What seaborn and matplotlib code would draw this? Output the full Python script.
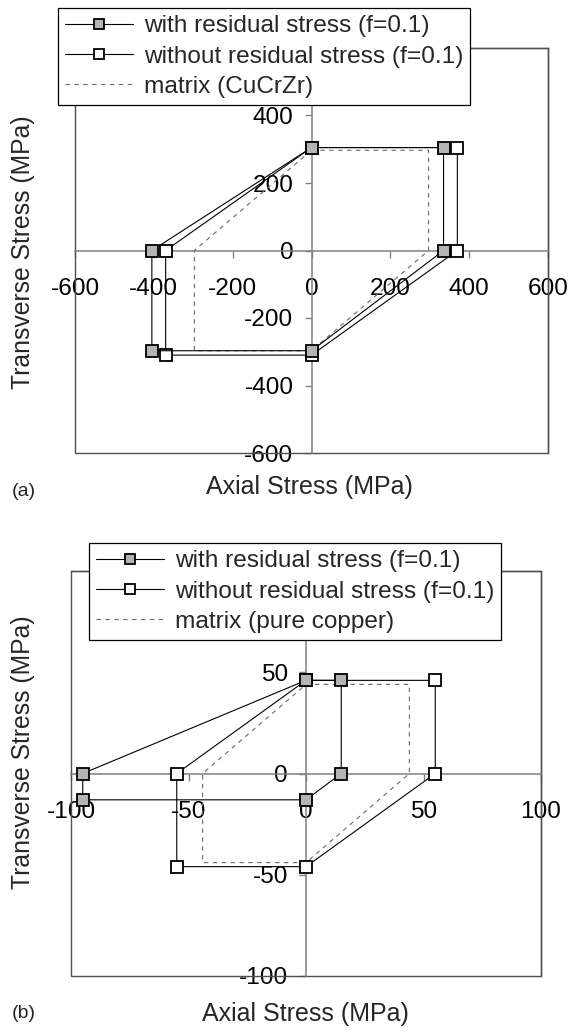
import matplotlib
matplotlib.use("Agg")
import matplotlib.pyplot as plt
import seaborn as sns
from matplotlib.lines import Line2D
from matplotlib.patches import Rectangle

# ---------------- data ----------------
# (a) CuCrZr
a_with_x = [0, 335, 335, 0, -405, -405, 0]
a_with_y = [305, 305, 0, -297, -297, 0, 305]
a_without_x = [0, 370, 370, 0, -370, -370, 0]
a_without_y = [305, 305, 0, -310, -310, 0, 305]
a_matrix_x = [0, 297, 297, 0, -297, -297, 0]
a_matrix_y = [297, 297, 0, -297, -297, 0, 297]
a_ticks = [-600, -400, -200, 0, 200, 400, 600]

# (b) pure copper
b_with_x = [0, 15, 15, 0, -95, -95, 0]
b_with_y = [46, 46, 0, -13, -13, 0, 46]
b_without_x = [0, 55, 55, 0, -55, -55, 0]
b_without_y = [46, 46, 0, -46, -46, 0, 46]
b_matrix_x = [0, 44, 44, 0, -44, -44, 0]
b_matrix_y = [44, 44, 0, -44, -44, 0, 44]
b_ticks = [-100, -50, 0, 50, 100]

labels_a = ["with residual stress (f=0.1)", "without residual stress (f=0.1)", "matrix (CuCrZr)"]
labels_b = ["with residual stress (f=0.1)", "without residual stress (f=0.1)", "matrix (pure copper)"]

# ---------------- style ----------------
sns.set_theme(style="white")
plt.rcParams["font.family"] = ["Liberation Sans", "DejaVu Sans"]
plt.rcParams["axes.unicode_minus"] = False

GRAY = "#b4b4b4"
AXIS_C = "#808080"
FRAME_C = "#505050"
DASH_C = "#6a6a6a"
FS = 17.6
MS = 8.3

W, H = 570, 1036
fig = plt.figure(figsize=(W / 100, H / 100), dpi=100)


def px_axes(l, r, t, b):
    return fig.add_axes([l / W, 1 - b / H, (r - l) / W, (b - t) / H])


def draw(ax, mx, my, wox, woy, wx, wy):
    sns.lineplot(x=mx, y=my, sort=False, estimator=None, ax=ax, color=DASH_C,
                 lw=0.8, linestyle=(0, (4, 4)), legend=False, zorder=3)
    sns.lineplot(x=wox, y=woy, sort=False, estimator=None, ax=ax, color="black",
                 lw=0.8, marker="s", markersize=MS, markerfacecolor="white",
                 markeredgecolor="black", markeredgewidth=1.3, legend=False, zorder=4)
    sns.lineplot(x=wx, y=wy, sort=False, estimator=None, ax=ax, color="black",
                 lw=0.8, marker="s", markersize=MS, markerfacecolor=GRAY,
                 markeredgecolor="black", markeredgewidth=1.3, legend=False, zorder=4.5)


def setup(ax, ticks):
    lim = ticks[-1]
    ax.set_xlim(-lim, lim)
    ax.set_ylim(-lim, lim)
    ax.set_xticks(ticks)
    ax.set_yticks(ticks)
    ax.set_xticklabels([str(t) for t in ticks])
    # the top y label sits behind the legend in the reference
    ax.set_yticklabels([str(t) for t in ticks[:-1]] + [""])
    ax.spines["left"].set_position("zero")
    ax.spines["bottom"].set_position("zero")
    for s in ["left", "bottom"]:
        ax.spines[s].set_color(AXIS_C)
        ax.spines[s].set_linewidth(1.1)
    for s in ["top", "right"]:
        ax.spines[s].set_color(FRAME_C)
        ax.spines[s].set_linewidth(1.0)
    ax.add_patch(Rectangle((0, 0), 1, 1, transform=ax.transAxes, fill=False,
                           edgecolor=FRAME_C, lw=1.0, zorder=1, clip_on=False))
    ax.tick_params(axis="both", direction="out", length=5, width=1.0, color=AXIS_C,
                   labelsize=FS, labelcolor="black", bottom=True, left=True)
    ax.tick_params(axis="x", pad=15)
    ax.tick_params(axis="y", pad=8)
    ax.set_xlabel("")
    ax.set_ylabel("")
    ax.set_facecolor("white")


def legend(ax, labels, x, y):
    h1 = Line2D([], [], color="black", lw=0.8, marker="s", markersize=MS - 0.5,
                markerfacecolor=GRAY, markeredgecolor="black", markeredgewidth=1.3)
    h2 = Line2D([], [], color="black", lw=0.8, marker="s", markersize=MS - 0.5,
                markerfacecolor="white", markeredgecolor="black", markeredgewidth=1.3)
    h3 = Line2D([], [], color=DASH_C, lw=0.8, linestyle=(0, (4, 4)))
    leg = ax.legend([h1, h2, h3], labels, loc="upper left",
                    bbox_to_anchor=(x / W, 1 - y / H), bbox_transform=fig.transFigure,
                    frameon=True, fancybox=False, edgecolor="black", framealpha=1,
                    facecolor="white", fontsize=FS, handlelength=2.75,
                    handletextpad=0.45, borderpad=0.3, labelspacing=0.33,
                    borderaxespad=0, numpoints=1)
    leg.get_frame().set_linewidth(0.9)
    leg.set_zorder(10)


# ---------------- (a) ----------------
ax1 = px_axes(75, 548, 48, 453)
draw(ax1, a_matrix_x, a_matrix_y, a_without_x, a_without_y, a_with_x, a_with_y)
setup(ax1, a_ticks)
legend(ax1, labels_a, 58, 8)

# ---------------- (b) ----------------
ax2 = px_axes(71, 541, 571, 976)
draw(ax2, b_matrix_x, b_matrix_y, b_without_x, b_without_y, b_with_x, b_with_y)
setup(ax2, b_ticks)
legend(ax2, labels_b, 89, 543)

# ---------------- texts ----------------
fig.text(23 / W, 1 - 252 / H, "Transverse Stress (MPa)", rotation=90,
         ha="center", va="center", fontsize=17.8)
fig.text(309 / W, 1 - 487 / H, "Axial Stress (MPa)", ha="center", va="center", fontsize=18)
fig.text(12 / W, 1 - 491 / H, "(a)", ha="left", va="center", fontsize=14)

fig.text(23 / W, 1 - 752 / H, "Transverse Stress (MPa)", rotation=90,
         ha="center", va="center", fontsize=17.8)
fig.text(305 / W, 1 - 1014 / H, "Axial Stress (MPa)", ha="center", va="center", fontsize=18)
fig.text(12 / W, 1 - 1014 / H, "(b)", ha="left", va="center", fontsize=14)

fig.savefig("out.png", dpi=100, facecolor="white")
